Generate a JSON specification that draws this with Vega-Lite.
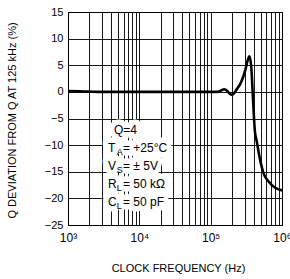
{
  "$schema": "https://vega.github.io/schema/vega-lite/v6.json",
  "width": 214,
  "height": 213,
  "autosize": {"type": "none"},
  "padding": {"left": 68, "top": 12, "right": 8, "bottom": 54},
  "background": "white",
  "config": {
    "view": {"stroke": "#000", "strokeWidth": 1},
    "font": "Liberation Sans",
    "axis": {
      "grid": true,
      "gridColor": "#000",
      "gridOpacity": 0.9,
      "gridWidth": 1,
      "ticks": false,
      "domain": false,
      "labelColor": "#000",
      "titleColor": "#000",
      "labelFont": "Liberation Sans",
      "titleFont": "Liberation Sans",
      "titleFontWeight": "normal",
      "labelFontSize": 11,
      "titleFontSize": 11
    },
    "text": {"align": "left", "baseline": "alphabetic", "fontSize": 12, "lineHeight": 18, "lineBreak": "\n", "font": "Liberation Sans", "fill": "#000"}
  },
  "datasets": {
    "curve": [
      {"f": 1000, "dev": 0.15},
      {"f": 1500, "dev": 0.1},
      {"f": 2000, "dev": 0.05},
      {"f": 3000, "dev": 0},
      {"f": 10000, "dev": 0},
      {"f": 30000, "dev": 0},
      {"f": 100000, "dev": 0},
      {"f": 125000, "dev": 0},
      {"f": 140000, "dev": 0.25},
      {"f": 155000, "dev": 0.5},
      {"f": 170000, "dev": 0.2},
      {"f": 185000, "dev": -0.35},
      {"f": 198000, "dev": -0.55},
      {"f": 215000, "dev": -0.2},
      {"f": 232000, "dev": 0.5},
      {"f": 258000, "dev": 1.4},
      {"f": 285000, "dev": 2.8},
      {"f": 303000, "dev": 3.9},
      {"f": 330000, "dev": 5.9},
      {"f": 349000, "dev": 6.7},
      {"f": 370000, "dev": 4.8},
      {"f": 397000, "dev": -2.7},
      {"f": 417000, "dev": -7.4},
      {"f": 443000, "dev": -9.3},
      {"f": 482000, "dev": -12.1},
      {"f": 548000, "dev": -15.2},
      {"f": 645000, "dev": -16.8},
      {"f": 800000, "dev": -18},
      {"f": 1000000, "dev": -18.5}
    ],
    "notes": [
      {"q": "Q=4", "letter": "\nT\nV\nR\nC", "sub": "\nA\nS\nL\nL", "rest": "\n= +25°C\n= ± 5V\n= 50 kΩ\n= 50 pF"}
    ]
  },
  "layer": [
    {
      "data": {"name": "curve"},
      "mark": {"type": "line", "color": "#000", "strokeWidth": 2.6, "interpolate": "monotone"},
      "encoding": {
        "x": {
          "field": "f",
          "type": "quantitative",
          "scale": {"type": "log", "domain": [1000, 1000000], "nice": false},
          "axis": {
            "values": [1000, 2000, 3000, 4000, 5000, 6000, 7000, 8000, 9000, 10000, 20000, 30000, 40000, 50000, 60000, 70000, 80000, 90000, 100000, 200000, 300000, 400000, 500000, 600000, 700000, 800000, 900000, 1000000],
            "tickCount": 50,
            "labelExpr": "datum.value == 1000 ? '10³' : datum.value == 10000 ? '10⁴' : datum.value == 100000 ? '10⁵' : datum.value == 1000000 ? '10⁶' : ''",
            "labelOverlap": false,
            "labelFlush": false,
            "labelFontSize": 12,
            "labelPadding": 7,
            "title": "CLOCK FREQUENCY (Hz)",
            "titleX": 110,
            "titleY": 43,
            "titleAlign": "center",
            "titleBaseline": "middle"
          }
        },
        "y": {
          "field": "dev",
          "type": "quantitative",
          "scale": {"domain": [-25, 15], "nice": false},
          "axis": {
            "values": [-25, -20, -15, -10, -5, 0, 5, 10, 15],
            "tickCount": 20,
            "labelOverlap": false,
            "labelPadding": 5,
            "title": "Q DEVIATION FROM Q AT 125 kHz (%)",
            "titleX": -56,
            "titleY": 108,
            "titleAngle": -90,
            "titleAlign": "center",
            "titleBaseline": "middle"
          }
        }
      }
    },
    {
      "data": {"name": "notes"},
      "mark": {"type": "text", "fill": "#fff", "stroke": "#fff", "strokeWidth": 11, "strokeJoin": "round", "dx": 6},
      "encoding": {"x": {"datum": 3640}, "y": {"datum": -7.97}, "text": {"field": "q"}}
    },
    {
      "data": {"name": "notes"},
      "mark": {"type": "text", "fill": "#fff", "stroke": "#fff", "strokeWidth": 11, "strokeJoin": "round"},
      "encoding": {"x": {"datum": 3640}, "y": {"datum": -7.97}, "text": {"field": "letter"}}
    },
    {
      "data": {"name": "notes"},
      "mark": {"type": "text", "fill": "#fff", "stroke": "#fff", "strokeWidth": 11, "strokeJoin": "round", "dx": 14},
      "encoding": {"x": {"datum": 3640}, "y": {"datum": -7.97}, "text": {"field": "rest"}}
    },
    {
      "data": {"name": "notes"},
      "mark": {"type": "text", "dx": 6},
      "encoding": {"x": {"datum": 3640}, "y": {"datum": -7.97}, "text": {"field": "q"}}
    },
    {
      "data": {"name": "notes"},
      "mark": {"type": "text"},
      "encoding": {"x": {"datum": 3640}, "y": {"datum": -7.97}, "text": {"field": "letter"}}
    },
    {
      "data": {"name": "notes"},
      "mark": {"type": "text", "fontSize": 9, "dx": 8.6, "dy": 2.5},
      "encoding": {"x": {"datum": 3640}, "y": {"datum": -7.97}, "text": {"field": "sub"}}
    },
    {
      "data": {"name": "notes"},
      "mark": {"type": "text", "dx": 15},
      "encoding": {"x": {"datum": 3640}, "y": {"datum": -7.97}, "text": {"field": "rest"}}
    }
  ]
}
